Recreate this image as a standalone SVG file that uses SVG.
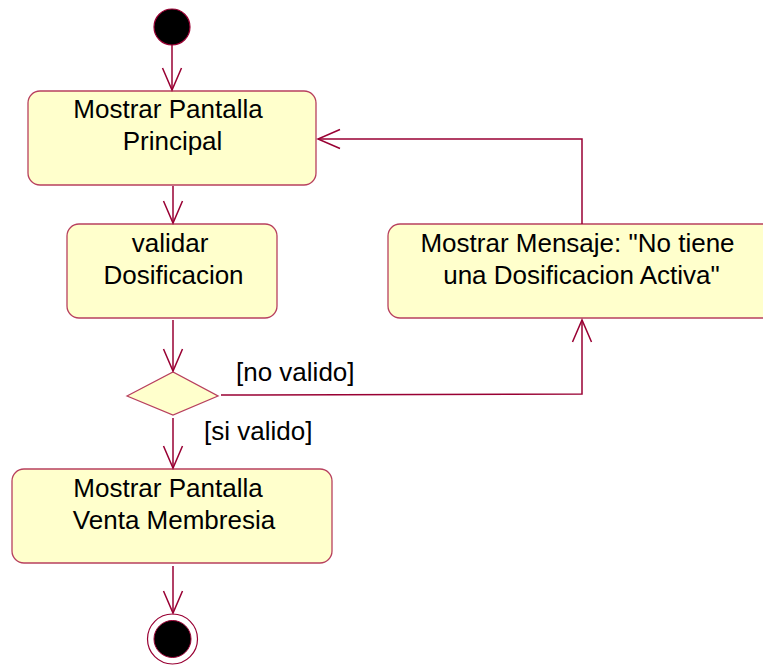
<svg xmlns="http://www.w3.org/2000/svg" width="763" height="665" viewBox="0 0 763 665">
<defs>
<style>
.box{fill:#ffffcc;stroke:#b8405e;stroke-width:1.3}
.lbl{font-family:"Liberation Sans",Arial,sans-serif;font-size:26px;fill:#000;text-anchor:middle}
.grd{font-family:"Liberation Sans",Arial,sans-serif;font-size:26px;fill:#000}
.edge{fill:none;stroke:#990033;stroke-width:1.5}
</style>
<marker id="arr" markerUnits="userSpaceOnUse" viewBox="-24 -11 26 22" refX="0" refY="0" markerWidth="26" markerHeight="22" orient="auto">
<path d="M-22,-9.5 L0,0 L-22,9.5" fill="none" stroke="#990033" stroke-width="1.5"/>
</marker>
</defs>
<rect width="763" height="665" fill="#ffffff"/>
<g id="start">
<circle cx="172" cy="27" r="18" fill="#000" stroke="#990033" stroke-width="1.2"/>
</g>
<g id="n1">
<rect class="box" x="28" y="91" width="288" height="94" rx="12"/>
<text class="lbl" x="168" y="118">Mostrar Pantalla</text>
<text class="lbl" x="172.5" y="150">Principal</text>
</g>
<g id="n2">
<rect class="box" x="67" y="224" width="210" height="94" rx="12"/>
<text class="lbl" x="170" y="252">validar</text>
<text class="lbl" x="173.5" y="284">Dosificacion</text>
</g>
<g id="n3">
<rect class="box" x="388" y="224" width="388" height="94" rx="12"/>
<text class="lbl" x="577.5" y="252">Mostrar Mensaje: "No tiene</text>
<text class="lbl" x="581.5" y="284">una Dosificacion Activa"</text>
</g>
<g id="decision">
<polygon points="127,396 173,372 218,396 173,415" fill="#ffffcc" stroke="#b8405e" stroke-width="1.3"/>
</g>
<g id="n4">
<rect class="box" x="12" y="469" width="320" height="94" rx="12"/>
<text class="lbl" x="168" y="497">Mostrar Pantalla</text>
<text class="lbl" x="174" y="529">Venta Membresia</text>
</g>
<g id="end">
<circle cx="172.5" cy="639" r="25" fill="#fff" stroke="#990033" stroke-width="1.2"/>
<circle cx="172.5" cy="639" r="18.5" fill="#000" stroke="#990033" stroke-width="1"/>
</g>
<g id="connectors">
<path class="edge" d="M172,45 L172,90" marker-end="url(#arr)"/>
<path class="edge" d="M173,186 L173,223" marker-end="url(#arr)"/>
<path class="edge" d="M173,320 L173,371" marker-end="url(#arr)"/>
<path class="edge" d="M221,395 L582,394 L582,320" marker-end="url(#arr)"/>
<path class="edge" d="M582,224 L582,139 L318,139" marker-end="url(#arr)"/>
<path class="edge" d="M173,418 L173,468" marker-end="url(#arr)"/>
<path class="edge" d="M173,566 L173,613" marker-end="url(#arr)"/>
<text class="grd" x="236" y="381">[no valido]</text>
<text class="grd" x="204" y="440">[si valido]</text>
</g>
</svg>
